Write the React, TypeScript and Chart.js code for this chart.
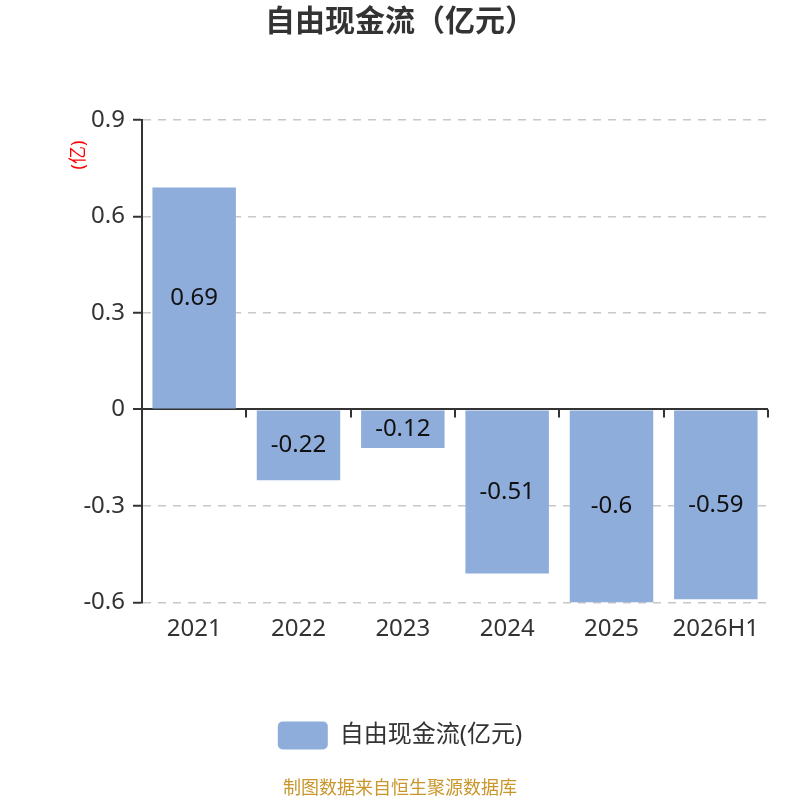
import React, { useEffect, useRef } from 'react';
import { Chart, registerables } from 'chart.js';

Chart.register(...registerables);

const years = ['2021', '2022', '2023', '2024', '2025', '2026H1'];
const freeCashFlow = [0.69, -0.22, -0.12, -0.51, -0.6, -0.59];
const seriesName = '自由现金流(亿元)';
const chartTitle = '自由现金流（亿元）';
const unitLabel = '(亿)';
const sourceNote = '制图数据来自恒生聚源数据库';

const FONT = "'Noto Sans', 'Noto Sans CJK SC', sans-serif";
const BAR = '#8eaddb';
const DARK = '#333333';

// value text centred in each bar
const barLabels = {
    id: 'barLabels',
    afterDatasetsDraw(chart: any) {
        const { ctx } = chart;
        const meta = chart.getDatasetMeta(0);
        ctx.save();
        ctx.font = `24px ${FONT}`;
        ctx.fillStyle = '#111';
        ctx.textAlign = 'center';
        ctx.textBaseline = 'middle';
        meta.data.forEach((bar: any, i: number) => {
            const cy = (bar.y + bar.base) / 2;
            ctx.fillText(String(freeCashFlow[i]), bar.x, cy);
        });
        ctx.restore();
    },
};

// small down ticks on the zero line between categories + unit label
const zeroTicks = {
    id: 'zeroTicks',
    afterDraw(chart: any) {
        const { ctx, scales } = chart;
        const x = scales.x;
        const y = scales.y;
        const zy = y.getPixelForValue(0);
        const w = (x.right - x.left) / years.length;
        ctx.save();
        ctx.strokeStyle = DARK;
        ctx.lineWidth = 2;
        ctx.beginPath();
        for (let k = 1; k <= years.length; k++) {
            const px = Math.round(x.left + k * w);
            ctx.moveTo(px, zy);
            ctx.lineTo(px, zy + 8);
        }
        ctx.stroke();

        ctx.translate(79, y.top + 35);
        ctx.rotate(-Math.PI / 2);
        ctx.font = `18px ${FONT}`;
        ctx.fillStyle = 'red';
        ctx.textAlign = 'center';
        ctx.textBaseline = 'middle';
        ctx.fillText(unitLabel, 0, 0);
        ctx.restore();
    },
};

const App = () => {
    const canvasRef = useRef<HTMLCanvasElement>(null);

    useEffect(() => {
        if (!canvasRef.current) return;
        const chart = new Chart(canvasRef.current, {
            type: 'bar',
            data: {
                labels: years,
                datasets: [{
                    label: seriesName,
                    data: freeCashFlow,
                    backgroundColor: BAR,
                    barPercentage: 0.8,
                    categoryPercentage: 1,
                }],
            },
            options: {
                animation: false,
                responsive: true,
                maintainAspectRatio: false,
                layout: { padding: { left: 32, right: 32, top: 0, bottom: 0 } },
                scales: {
                    x: {
                        grid: { display: false, drawTicks: false },
                        border: { display: false },
                        ticks: { color: DARK, font: { family: FONT, size: 24 }, padding: 12 },
                        title: { display: true, text: '', font: { size: 1 }, padding: { top: 0, bottom: 55 } },
                    },
                    y: {
                        min: -0.6,
                        max: 0.9,
                        afterFit: (s: any) => {
                            s.width = 110;
                        },
                        grid: {
                            color: (c: any) => (c.tick && c.tick.value === 0 ? DARK : '#c8c8c8'),
                            lineWidth: (c: any) => (c.tick && c.tick.value === 0 ? 2 : 1.5),
                            tickColor: DARK,
                            tickLength: 9,
                            tickWidth: 2,
                        },
                        border: {
                            display: true,
                            color: DARK,
                            width: 2,
                            dash: (c: any) => (c.tick && c.tick.value === 0 ? [] : [8, 7]),
                        },
                        ticks: {
                            stepSize: 0.3,
                            color: DARK,
                            padding: 8,
                            font: { family: FONT, size: 24 },
                            callback: (v: any) => String(Math.round(Number(v) * 10) / 10),
                        },
                    },
                },
                plugins: {
                    title: {
                        display: true,
                        text: chartTitle,
                        color: DARK,
                        font: { family: FONT, size: 30, weight: 'bold' },
                        padding: { top: 4, bottom: 80 },
                    },
                    legend: {
                        position: 'bottom',
                        labels: {
                            color: DARK,
                            font: { family: FONT, size: 24 },
                            boxWidth: 50,
                            boxHeight: 28,
                            useBorderRadius: true,
                            borderRadius: 5,
                            padding: 10,
                        },
                    },
                    subtitle: {
                        display: true,
                        position: 'bottom',
                        text: sourceNote,
                        color: '#c8962a',
                        font: { family: FONT, size: 18 },
                        padding: { top: 19, bottom: 0 },
                    },
                    tooltip: { enabled: false },
                },
            },
            plugins: [barLabels, zeroTicks],
        });
        return () => {
            chart.destroy();
        };
    }, []);

    return (
        <div style={{ position: 'fixed', left: 0, top: 0, width: 800, height: 800, background: '#fff' }}>
            <canvas ref={canvasRef} />
        </div>
    );
};

export default App;
